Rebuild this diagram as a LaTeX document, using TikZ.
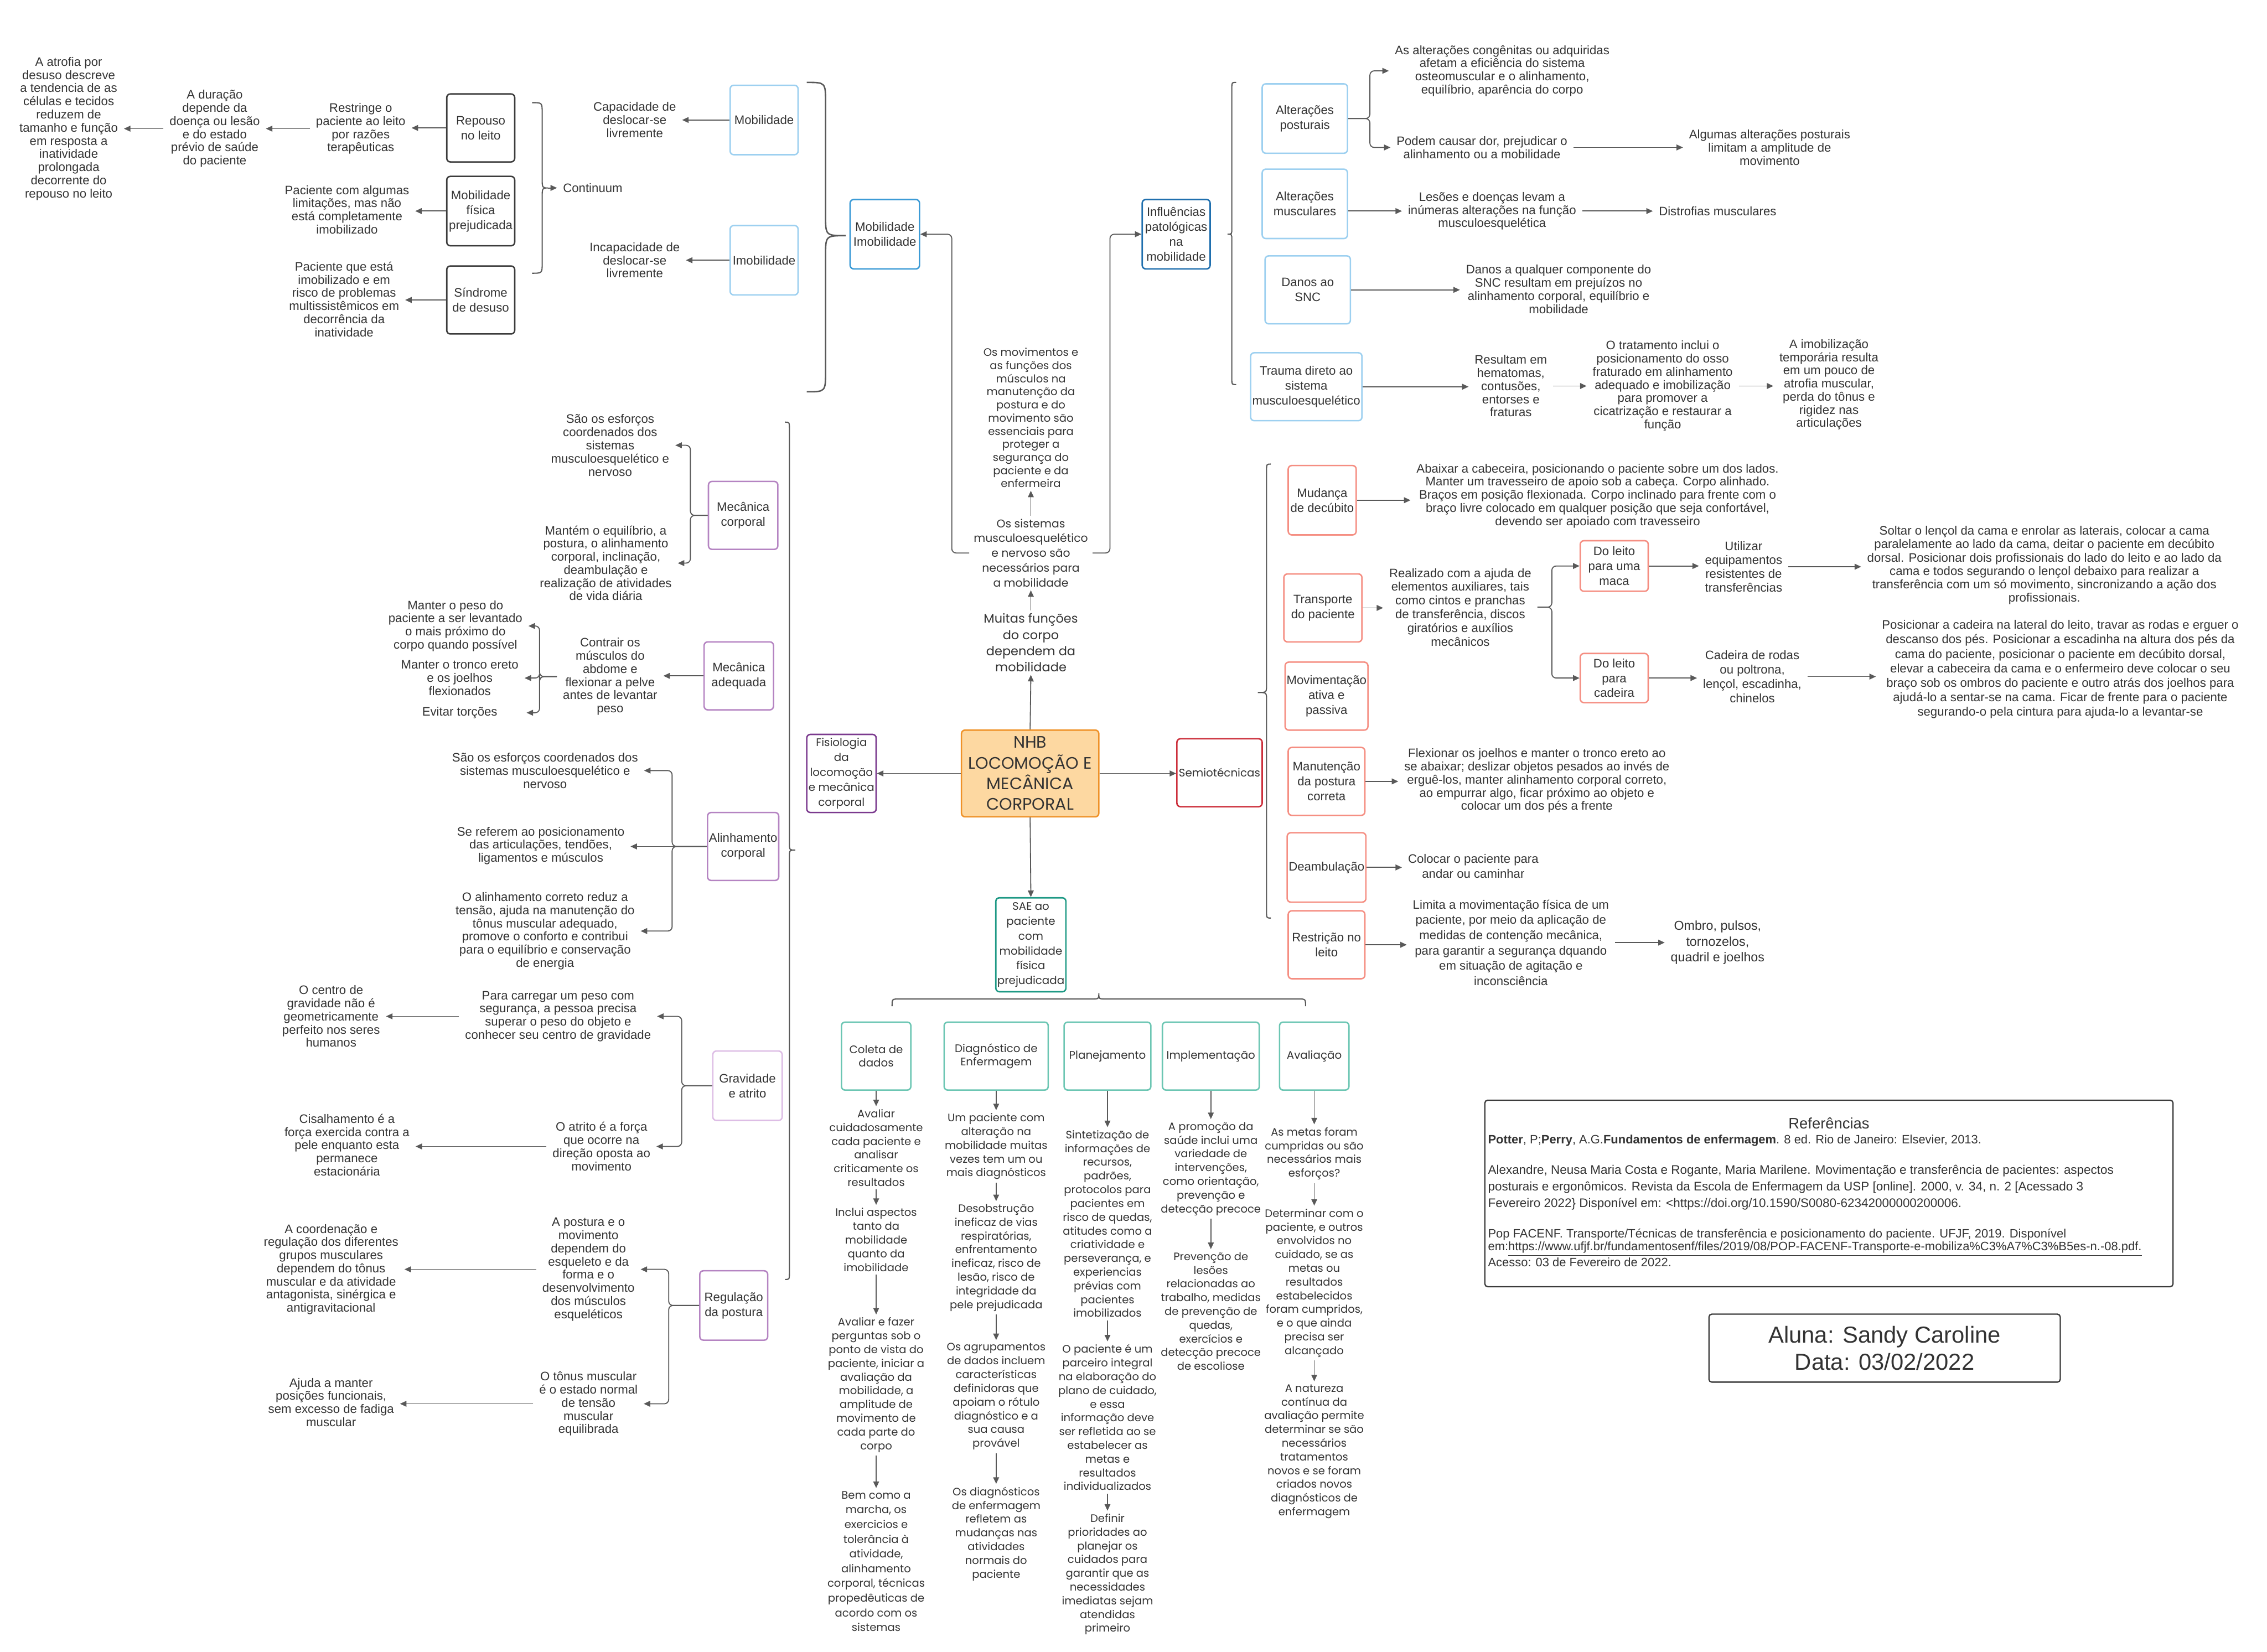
\documentclass[tikz,border=0pt]{standalone}
\usepackage{fontspec}
\setmainfont{Liberation Sans}
\newfontfamily\geo{Poppins}
\usetikzlibrary{arrows.meta}
\definecolor{tc}{HTML}{333333}
\definecolor{lc}{HTML}{595959}
\definecolor{kb}{HTML}{3C3C3C}
\definecolor{lb}{HTML}{9DD0F0}
\definecolor{mb}{HTML}{3C9BD6}
\definecolor{db}{HTML}{1F6FAE}
\definecolor{pu}{HTML}{B584C2}
\definecolor{lpu}{HTML}{DDBDE5}
\definecolor{dpu}{HTML}{7B3A8E}
\definecolor{rd}{HTML}{CC2F3B}
\definecolor{sal}{HTML}{F58E82}
\definecolor{te}{HTML}{1E9985}
\definecolor{lte}{HTML}{6CC6B3}
\definecolor{orf}{HTML}{FDD8A1}
\definecolor{ord}{HTML}{EF9228}
\begin{document}
\begin{tikzpicture}[x=1pt,y=-1pt,
  tx/.style={align=center,text=tc,font=\fontsize{8.5}{9.1}\selectfont,inner xsep=4pt,inner ysep=2pt},
  gx/.style={align=center,text=tc,font=\geo\fontsize{7.5}{9.5}\selectfont,inner xsep=3pt,inner ysep=2pt},
  bx/.style={draw,rounded corners=2.5pt,line width=1pt,align=center,text=tc,font=\fontsize{8.5}{10.3}\selectfont,inner sep=1pt},
  gbx/.style={bx,font=\geo\fontsize{7.6}{10.3}\selectfont},
  sbx/.style={bx,draw=lte,font=\geo\fontsize{7.6}{9.5}\selectfont},
  sz/.style 2 args={minimum width=#1pt,minimum height=#2pt},
  arr/.style={draw=lc,line width=0.7pt,-{Triangle[length=4.5pt,width=4pt]}},
  brc/.style={draw=lc,line width=0.8pt},
]
\fill[white] (0,0) rectangle (1568,1142.4);
\useasboundingbox (0,0) rectangle (1568,1142.4);

% ---------- top-left ----------
\node[bx,draw=kb,sz={47}{47}] (rep) at (332.5,88.5) {Repouso\\no leito};
\node[bx,draw=kb,sz={47}{48}] (mfp) at (332.5,146) {Mobilidade\\física\\prejudicada};
\node[bx,draw=kb,sz={47}{47}] (sdd) at (332.5,207.5) {Síndrome\\de desuso};
\node[tx] (restr) at (249.5,89) {Restringe o\\paciente ao leito\\por razões\\terapêuticas};
\node[tx] (dur) at (148.5,89) {A duração\\depende da\\doença ou lesão\\e do estado\\prévio de saúde\\do paciente};
\node[tx] (atr) at (47.5,89) {A atrofia por\\desuso descreve\\a tendencia de as\\células e tecidos\\reduzem de\\tamanho e função\\em resposta a\\inatividade\\prolongada\\decorrente do\\repouso no leito};
\node[tx] (lim) at (240,145) {Paciente com algumas\\limitações, mas não\\está completamente\\imobilizado};
\node[tx] (risk) at (238,207) {Paciente que está\\imobilizado e em\\risco de problemas\\multissistêmicos em\\decorrência da\\inatividade};
\node[tx] (cont) at (410,130) {Continuum};
\draw[arr] (rep.west) -- (rep.west -| restr.east);
\draw[arr] (restr.west) -- (restr.west -| dur.east);
\draw[arr] (dur.west) -- (dur.west -| atr.east);
\draw[arr] (mfp.west) -- (mfp.west -| lim.east);
\draw[arr] (sdd.west) -- (sdd.west -| risk.east);
\draw[brc] (368,71) .. controls (375,71) .. (375,78) -- (375,123) .. controls (375,130) .. (379,130) .. controls (375,130) .. (375,137) -- (375,182) .. controls (375,189) .. (368,189);
\coordinate (bA) at (379,130);
\draw[arr] (bA) -- (cont.west);

% ---------- mobilidade ----------
\node[bx,draw=lb,sz={47}{48}] (mob) at (528.5,83) {Mobilidade};
\node[bx,draw=lb,sz={47}{48}] (imob) at (528.5,180) {Imobilidade};
\node[tx] (cap) at (439,83) {Capacidade de\\deslocar-se\\livremente};
\node[tx] (incap) at (439,180) {Incapacidade de\\deslocar-se\\livremente};
\draw[arr] (mob.west) -- (mob.west -| cap.east);
\draw[arr] (imob.west) -- (imob.west -| incap.east);
\node[bx,draw=mb,sz={48}{48}] (mobimob) at (612,162) {Mobilidade\\Imobilidade};
\draw[brc,line width=1pt] (558,57) .. controls (571,57) .. (571,71) -- (571,149) .. controls (571,163) .. (585,163) .. controls (571,163) .. (571,177) -- (571,257) .. controls (571,271) .. (558,271);

% ---------- centre ----------
\node[bx,draw=ord,fill=orf,sz={95}{60},font=\geo\fontsize{11.5}{14.3}\selectfont] (nhb) at (712.5,535) {NHB\\LOCOMOÇÃO E\\MECÂNICA\\CORPORAL};
\node[gbx,draw=dpu,sz={48}{54}] (fisio) at (582,535) {Fisiologia\\da\\locomoção\\e mecânica\\corporal};
\node[gbx,draw=rd,sz={59}{47}] (semio) at (843.5,534.5) {Semiotécnicas};
\node[gbx,draw=te,sz={48}{65}] (sae) at (713,653.5) {SAE ao\\paciente\\com\\mobilidade\\física\\prejudicada};
\node[gx,font=\geo\fontsize{8.6}{11.2}\selectfont] (muitas) at (713,444.5) {Muitas funções\\do corpo\\dependem da\\mobilidade};
\node[gx,font=\geo\fontsize{7.8}{10.3}\selectfont] (sist) at (713,382.5) {Os sistemas\\musculoesquelético\\e nervoso são\\necessários para\\a mobilidade};
\node[gx,font=\geo\fontsize{7.5}{9.07}\selectfont] (movs) at (713,289) {Os movimentos e\\as funções dos\\músculos na\\manutenção da\\postura e do\\movimento são\\essenciais para\\proteger a\\segurança do\\paciente e da\\enfermeira};
\draw[arr] (nhb.north) -- (muitas.south);
\draw[arr] (muitas.north) -- (sist.south);
\draw[arr] (sist.north) -- (movs.south);
\draw[arr,rounded corners=3pt] (sist.west) -- ++(-12,0) |- (mobimob.east);
\draw[arr] (nhb.west) -- (nhb.west -| fisio.east);
\draw[arr] (nhb.east) -- (nhb.east -| semio.west);
\draw[arr] (nhb.south) -- (sae.north);

% ---------- influencias ----------
\node[bx,draw=db,sz={47}{48}] (infl) at (813.5,162) {Influências\\patológicas\\na\\mobilidade};
\draw[arr,rounded corners=3pt] (sist.east) -- ++(12,0) |- (infl.west);
\draw[brc] (855,57) .. controls (852,57) .. (852,61) -- (852,158) .. controls (852,162) .. (849,162) .. controls (852,162) .. (852,166) -- (852,262) .. controls (852,266) .. (855,266);
\node[bx,draw=lb,sz={59}{48}] (altp) at (902.5,82) {Alterações\\posturais};
\node[bx,draw=lb,sz={59}{48}] (altm) at (902.5,141) {Alterações\\musculares};
\node[bx,draw=lb,sz={59}{47}] (snc) at (904.5,200.5) {Danos ao\\SNC};
\node[bx,draw=lb,sz={77}{47}] (trauma) at (903.5,267.5) {Trauma direto ao\\sistema\\musculoesquelético};
\node[tx] (tcong) at (1039,49) {As alterações congênitas ou adquiridas\\afetam a eficiência do sistema\\osteomuscular e o alinhamento,\\equilíbrio, aparência do corpo};
\node[tx] (tdor) at (1025,102) {Podem causar dor, prejudicar o\\alinhamento ou a mobilidade};
\node[tx] (tlim) at (1224,102) {Algumas alterações posturais\\limitam a amplitude de\\movimento};
\node[tx] (tles) at (1032,146) {Lesões e doenças levam a\\inúmeras alterações na função\\musculoesquelética};
\node[tx] (tdist) at (1188,146) {Distrofias musculares};
\node[tx] (tdanos) at (1078,200) {Danos a qualquer componente do\\SNC resultam em prejuízos no\\alinhamento corporal, equilíbrio e\\mobilidade};
\node[tx] (tres) at (1045,267) {Resultam em\\hematomas,\\contusões,\\entorses e\\fraturas};
\node[tx] (ttrat) at (1150,267) {O tratamento inclui o\\posicionamento do osso\\fraturado em alinhamento\\adequado e imobilização\\para promover a\\cicatrização e restaurar a\\função};
\node[tx] (timob) at (1265,266) {A imobilização\\temporária resulta\\em um pouco de\\atrofia muscular,\\perda do tônus e\\rigidez nas\\articulações};
\draw[arr,rounded corners=3pt] (altp.east) -- ++(15,0) |- (tcong.west);
\draw[arr,rounded corners=3pt] (altp.east) -- ++(15,0) |- (tdor.west);
\draw[arr] (tdor.east) -- (tdor.east -| tlim.west);
\draw[arr] (tles.west -| altm.east) -- (tles.west);
\draw[arr] (tles.east) -- (tdist.west);
\draw[arr] (snc.east) -- (snc.east -| tdanos.west);
\draw[arr] (trauma.east) -- (trauma.east -| tres.west);
\draw[arr] (tres.east) -- (tres.east -| ttrat.west);
\draw[arr] (ttrat.east) -- (ttrat.east -| timob.west);

% ---------- semiotecnicas ----------
\draw[brc] (879,321) .. controls (876,321) .. (876,326) -- (876,474) .. controls (876,479) .. (870,479) .. controls (876,479) .. (876,484) -- (876,630) .. controls (876,635) .. (879,635);
\node[bx,draw=sal,sz={47}{48}] (mud) at (914.5,346) {Mudança\\de decúbito};
\node[bx,draw=sal,sz={54}{47}] (transp) at (915,420.5) {Transporte\\do paciente};
\node[bx,draw=sal,sz={53}{47}] (movap) at (917.5,481.5) {Movimentação\\ativa e\\passiva};
\node[bx,draw=sal,sz={53}{47}] (manut) at (917.5,540.5) {Manutenção\\da postura\\correta};
\node[bx,draw=sal,sz={53}{48}] (deamb) at (917.5,600) {Deambulação};
\node[bx,draw=sal,sz={53}{47}] (restl) at (917.5,653.5) {Restrição no\\leito};
\node[bx,draw=sal,sz={47}{35}] (maca) at (1116.5,391.5) {Do leito\\para uma\\maca};
\node[bx,draw=sal,sz={47}{34}] (cad) at (1116.5,469) {Do leito\\para\\cadeira};
\node[tx] (tabx) at (1105,343) {Abaixar a cabeceira, posicionando o paciente sobre um dos lados.\\Manter um travesseiro de apoio sob a cabeça. Corpo alinhado.\\Braços em posição flexionada. Corpo inclinado para frente com o\\braço livre colocado em qualquer posição que seja confortável,\\devendo ser apoiado com travesseiro};
\node[tx,font=\fontsize{8.5}{9.5}\selectfont] (treal) at (1010,420) {Realizado com a ajuda de\\elementos auxiliares, tais\\como cintos e pranchas\\de transferência, discos\\giratórios e auxílios\\mecânicos};
\node[tx,font=\fontsize{8.5}{9.5}\selectfont] (tutil) at (1206,392) {Utilizar\\equipamentos\\resistentes de\\transferências};
\node[tx,font=\fontsize{8.5}{9.25}\selectfont] (tsolt) at (1414,391) {Soltar o lençol da cama e enrolar as laterais, colocar a cama\\paralelamente ao lado da cama, deitar o paciente em decúbito\\dorsal. Posicionar dois profissionais do lado do leito e ao lado da\\cama e todos segurando o lençol debaixo para realizar a\\transferência com um só movimento, sincronizando a ação dos\\profissionais.};
\node[tx,font=\fontsize{8.5}{9.9}\selectfont] (tcadr) at (1212,468) {Cadeira de rodas\\ou poltrona,\\lençol, escadinha,\\chinelos};
\node[tx,font=\fontsize{8.5}{10}\selectfont] (tposc) at (1425,463) {Posicionar a cadeira na lateral do leito, travar as rodas e erguer o\\descanso dos pés. Posicionar a escadinha na altura dos pés da\\cama do paciente, posicionar o paciente em decúbito dorsal,\\elevar a cabeceira da cama e o enfermeiro deve colocar o seu\\braço sob os ombros do paciente e outro atrás dos joelhos para\\ajudá-lo a sentar-se na cama. Ficar de frente para o paciente\\segurando-o pela cintura para ajuda-lo a levantar-se};
\node[tx] (tflex) at (1063,540) {Flexionar os joelhos e manter o tronco ereto ao\\se abaixar; deslizar objetos pesados ao invés de\\erguê-los, manter alinhamento corporal correto,\\ao empurrar algo, ficar próximo ao objeto e\\colocar um dos pés a frente};
\node[tx,font=\fontsize{8.5}{10.2}\selectfont] (tcoloc) at (1019,599) {Colocar o paciente para\\andar ou caminhar};
\node[tx,font=\fontsize{8.5}{10.6}\selectfont] (tlimita) at (1045,652) {Limita a movimentação física de um\\paciente, por meio da aplicação de\\medidas de contenção mecânica,\\para garantir a segurança dquando\\em situação de agitação e\\inconsciência};
\node[tx,font=\fontsize{8.9}{10.9}\selectfont] (tombro) at (1188,652) {Ombro, pulsos,\\tornozelos,\\quadril e joelhos};
\draw[arr] (mud.east) -- (mud.east -| tabx.west);
\draw[arr] (transp.east) -- (transp.east -| treal.west);
\draw[arr,rounded corners=3pt] (treal.east) -- ++(10,0) |- (maca.west);
\draw[arr,rounded corners=3pt] (treal.east) -- ++(10,0) |- (cad.west);
\draw[arr] (maca.east) -- (maca.east -| tutil.west);
\draw[arr] (tutil.east) -- (tutil.east -| tsolt.west);
\draw[arr] (cad.east) -- (cad.east -| tcadr.west);
\draw[arr] (tcadr.east) -- (tcadr.east -| tposc.west);
\draw[arr] (manut.east) -- (manut.east -| tflex.west);
\draw[arr] (deamb.east) -- (deamb.east -| tcoloc.west);
\draw[arr] (restl.east) -- (restl.east -| tlimita.west);
\draw[arr] (tlimita.east) -- (tlimita.east -| tombro.west);

% ---------- fisiologia branches ----------
\draw[brc] (543,292) .. controls (546,292) .. (546,297) -- (546,583) .. controls (546,588) .. (550,588) .. controls (546,588) .. (546,593) -- (546,880) .. controls (546,885) .. (543,885);
\node[bx,draw=pu,sz={48}{47}] (mc) at (514,356.5) {Mecânica\\corporal};
\node[tx] (mc1) at (422,308) {São os esforços\\coordenados dos\\sistemas\\musculoesquelético e\\nervoso};
\node[tx] (mc2) at (419,389.5) {Mantém o equilíbrio, a\\postura, o alinhamento\\corporal, inclinação,\\deambulação e\\realização de atividades\\de vida diária};
\draw[arr,rounded corners=3pt] (mc.west) -- ++(-12,0) |- (mc1.east);
\draw[arr,rounded corners=3pt] (mc.west) -- ++(-12,0) |- (mc2.east);
\node[bx,draw=pu,sz={48}{47}] (ma) at (511,467.5) {Mecânica\\adequada};
\node[tx] (ma1) at (422,468) {Contrair os\\músculos do\\abdome e\\flexionar a pelve\\antes de levantar\\peso};
\draw[arr] (ma.west) -- (ma.west -| ma1.east);
\node[tx] (ma2a) at (315,433) {Manter o peso do\\paciente a ser levantado\\o mais próximo do\\corpo quando possível};
\node[tx] (ma2b) at (318,469) {Manter o tronco ereto\\e os joelhos\\flexionados};
\node[tx,minimum width=92pt] (ma2c) at (318,493) {Evitar torções};
\draw[arr,rounded corners=3pt] (ma1.west) -- ++(-12,0) |- (ma2a.east);
\draw[arr,rounded corners=3pt] (ma1.west) -- ++(-12,0) |- (ma2b.east);
\draw[arr,rounded corners=3pt] (ma1.west) -- ++(-12,0) |- (ma2c.east);
\node[bx,draw=pu,sz={48}{47}] (al) at (514,585.5) {Alinhamento\\corporal};
\node[tx] (al1) at (377,533) {São os esforços coordenados dos\\sistemas musculoesquelético e\\nervoso};
\node[tx] (al2) at (374,585) {Se referem ao posicionamento\\das articulações, tendões,\\ligamentos e músculos};
\node[tx] (al3) at (377,644) {O alinhamento correto reduz a\\tensão, ajuda na manutenção do\\tônus muscular adequado,\\promove o conforto e contribui\\para o equilíbrio e conservação\\de energia};
\draw[arr,rounded corners=3pt] (al.west) -- ++(-24,0) |- (al1.east);
\draw[arr] (al.west) -- (al.west -| al2.east);
\draw[arr,rounded corners=3pt] (al.west) -- ++(-24,0) |- (al3.east);
\node[bx,draw=lpu,sz={48}{48}] (ga) at (517,751) {Gravidade\\e atrito};
\node[tx] (ga1) at (386,703) {Para carregar um peso com\\segurança, a pessoa precisa\\superar o peso do objeto e\\conhecer seu centro de gravidade};
\node[tx] (ga1b) at (229,703) {O centro de\\gravidade não é\\geometricamente\\perfeito nos seres\\humanos};
\node[tx] (ga2) at (416,793) {O atrito é a força\\que ocorre na\\direção oposta ao\\movimento};
\node[tx] (ga2b) at (240,792) {Cisalhamento é a\\força exercida contra a\\pele enquanto esta\\permanece\\estacionária};
\draw[arr,rounded corners=3pt] (ga.west) -- ++(-21,0) |- (ga1.east);
\draw[arr,rounded corners=3pt] (ga.west) -- ++(-21,0) |- (ga2.east);
\draw[arr] (ga1.west) -- (ga1.west -| ga1b.east);
\draw[arr] (ga2.west) -- (ga2.west -| ga2b.east);
\node[bx,draw=pu,sz={47}{48}] (rp) at (507.5,903) {Regulação\\da postura};
\node[tx] (rp1) at (407,878) {A postura e o\\movimento\\dependem do\\esqueleto e da\\forma e o\\desenvolvimento\\dos músculos\\esqueléticos};
\node[tx] (rp1b) at (229,878) {A coordenação e\\regulação dos diferentes\\grupos musculares\\dependem do tônus\\muscular e da atividade\\antagonista, sinérgica e\\antigravitacional};
\node[tx] (rp2) at (407,971) {O tônus muscular\\é o estado normal\\de tensão\\muscular\\equilibrada};
\node[tx] (rp2b) at (229,970) {Ajuda a manter\\posições funcionais,\\sem excesso de fadiga\\muscular};
\draw[arr,rounded corners=3pt] (rp.west) -- ++(-21,0) |- (rp1.east);
\draw[arr,rounded corners=3pt] (rp.west) -- ++(-21,0) |- (rp2.east);
\draw[arr] (rp1.west) -- (rp1.west -| rp1b.east);
\draw[arr] (rp2.west) -- (rp2.west -| rp2b.east);

% ---------- SAE ----------
\draw[brc] (617,696) .. controls (617,691) .. (622,691) -- (755,691) .. controls (760,691) .. (760,687) .. controls (760,691) .. (765,691) -- (898,691) .. controls (903,691) .. (903,696);
\node[sbx,sz={48}{47}] (cd) at (606,730.5) {Coleta de\\dados};
\node[sbx,sz={72}{47}] (de) at (689,730.5) {Diagnóstico de\\Enfermagem};
\node[sbx,sz={60}{47}] (pl) at (766,730.5) {Planejamento};
\node[sbx,sz={67}{47}] (im) at (837.5,730.5) {Implementação};
\node[sbx,sz={48}{47}] (av) at (909,730.5) {Avaliação};

\node[gx] (cd1) at (606,794) {Avaliar\\cuidadosamente\\cada paciente e\\analisar\\criticamente os\\resultados};
\node[gx] (cd2) at (606,857.5) {Inclui aspectos\\tanto da\\mobilidade\\quanto da\\imobilidade};
\node[gx] (cd3) at (606,958) {Avaliar e fazer\\perguntas sob o\\ponto de vista do\\paciente, iniciar a\\avaliação da\\mobilidade, a\\amplitude de\\movimento de\\cada parte do\\corpo};
\node[gx,font=\geo\fontsize{7.5}{10.2}\selectfont] (cd4) at (606,1080) {Bem como a\\marcha, os\\exercicios e\\tolerância à\\atividade,\\alinhamento\\corporal, técnicas\\propedêuticas de\\acordo com os\\sistemas};
\draw[arr] (cd.south) -- (cd1.north);
\draw[arr] (cd1.south) -- (cd2.north);
\draw[arr] (cd2.south) -- (cd3.north);
\draw[arr] (cd3.south) -- (cd4.north);

\node[gx] (de1) at (689,793) {Um paciente com\\alteração na\\mobilidade muitas\\vezes tem um ou\\mais diagnósticos};
\node[gx] (de2) at (689,870) {Desobstrução\\ineficaz de vias\\respiratórias,\\enfrentamento\\ineficaz, risco de\\lesão, risco de\\integridade da\\pele prejudicada};
\node[gx] (de3) at (689,966) {Os agrupamentos\\de dados incluem\\características\\definidoras que\\apoiam o rótulo\\diagnóstico e a\\sua causa\\provável};
\node[gx] (de4) at (689,1061) {Os diagnósticos\\de enfermagem\\refletem as\\mudanças nas\\atividades\\normais do\\paciente};
\draw[arr] (de.south) -- (de1.north);
\draw[arr] (de1.south) -- (de2.north);
\draw[arr] (de2.south) -- (de3.north);
\draw[arr] (de3.south) -- (de4.north);

\node[gx] (pl1) at (766,846.5) {Sintetização de\\informações de\\recursos,\\padrões,\\protocolos para\\pacientes em\\risco de quedas,\\atitudes como a\\criatividade e\\perseverança, e\\experiencias\\prévias com\\pacientes\\imobilizados};
\node[gx] (pl2) at (766,980.5) {O paciente é um\\parceiro integral\\na elaboração do\\plano de cuidado,\\e essa\\informação deve\\ser refletida ao se\\estabelecer as\\metas e\\resultados\\individualizados};
\node[gx] (pl3) at (766,1089) {Definir\\prioridades ao\\planejar os\\cuidados para\\garantir que as\\necessidades\\imediatas sejam\\atendidas\\primeiro};
\draw[arr] (pl.south) -- (pl1.north);
\draw[arr] (pl1.south) -- (pl2.north);
\draw[arr] (pl2.south) -- (pl3.north);

\node[gx] (im1) at (837.5,808.5) {A promoção da\\saúde inclui uma\\variedade de\\intervenções,\\como orientação,\\prevenção e\\detecção precoce};
\node[gx] (im2) at (837.5,907) {Prevenção de\\lesões\\relacionadas ao\\trabalho, medidas\\de prevenção de\\quedas,\\exercícios e\\detecção precoce\\de escoliose};
\draw[arr] (im.south) -- (im1.north);
\draw[arr] (im1.south) -- (im2.north);

\node[gx] (av1) at (909,798) {As metas foram\\cumpridas ou são\\necessários mais\\esforços?};
\node[gx] (av2) at (909,887.5) {Determinar com o\\paciente, e outros\\envolvidos no\\cuidado, se as\\metas ou\\resultados\\estabelecidos\\foram cumpridos,\\e o que ainda\\precisa ser\\alcançado};
\node[gx] (av3) at (909,1004) {A natureza\\contínua da\\avaliação permite\\determinar se são\\necessários\\tratamentos\\novos e se foram\\criados novos\\diagnósticos de\\enfermagem};
\draw[arr] (av.south) -- (av1.north);
\draw[arr] (av1.south) -- (av2.north);
\draw[arr] (av2.south) -- (av3.north);

% ---------- references ----------
\node[draw=kb,line width=0.9pt,rounded corners=2pt,minimum width=476pt,minimum height=129pt] (refs) at (1265,825.5) {};
\node[text=tc,font=\fontsize{10.5}{12}\selectfont,inner sep=0pt] (reft) at (1265,777) {Referências};
\node[anchor=west,text=tc,font=\fontsize{8.4}{10}\selectfont,inner sep=0pt] (ref1) at (1029,789) {\textbf{Potter}, P;\textbf{Perry}, A.G.\textbf{Fundamentos de enfermagem}. 8 ed. Rio de Janeiro: Elsevier, 2013.};
\node[anchor=west,align=left,text=tc,font=\fontsize{8.6}{11.5}\selectfont,inner sep=0pt] (ref2) at (1029,821.5) {Alexandre, Neusa Maria Costa e Rogante, Maria Marilene. Movimentação e transferência de pacientes: aspectos\\posturais e ergonômicos. Revista da Escola de Enfermagem da USP [online]. 2000, v. 34, n. 2 [Acessado 3\\Fevereiro 2022\} Disponível em: <https://doi.org/10.1590/S0080-62342000000200006.};
\node[anchor=west,align=left,text=tc,font=\fontsize{8.4}{9}\selectfont,inner sep=0pt] (ref3) at (1029,863) {Pop FACENF. Transporte/Técnicas de transferência e posicionamento do paciente. UFJF, 2019. Disponível\\em:\underline{https://www.ufjf.br/fundamentosenf/files/2019/08/POP-FACENF-Transporte-e-mobiliza\%C3\%A7\%C3\%B5es-n.-08.pdf.}\\Acesso: 03 de Fevereiro de 2022.};
\node[draw=kb,line width=0.9pt,rounded corners=2pt,minimum width=243pt,minimum height=47pt,align=center,text=tc,font=\fontsize{16}{19}\selectfont] (aluna) at (1303.5,932.5) {Aluna: Sandy Caroline\\Data: 03/02/2022};
\end{tikzpicture}
\end{document}
